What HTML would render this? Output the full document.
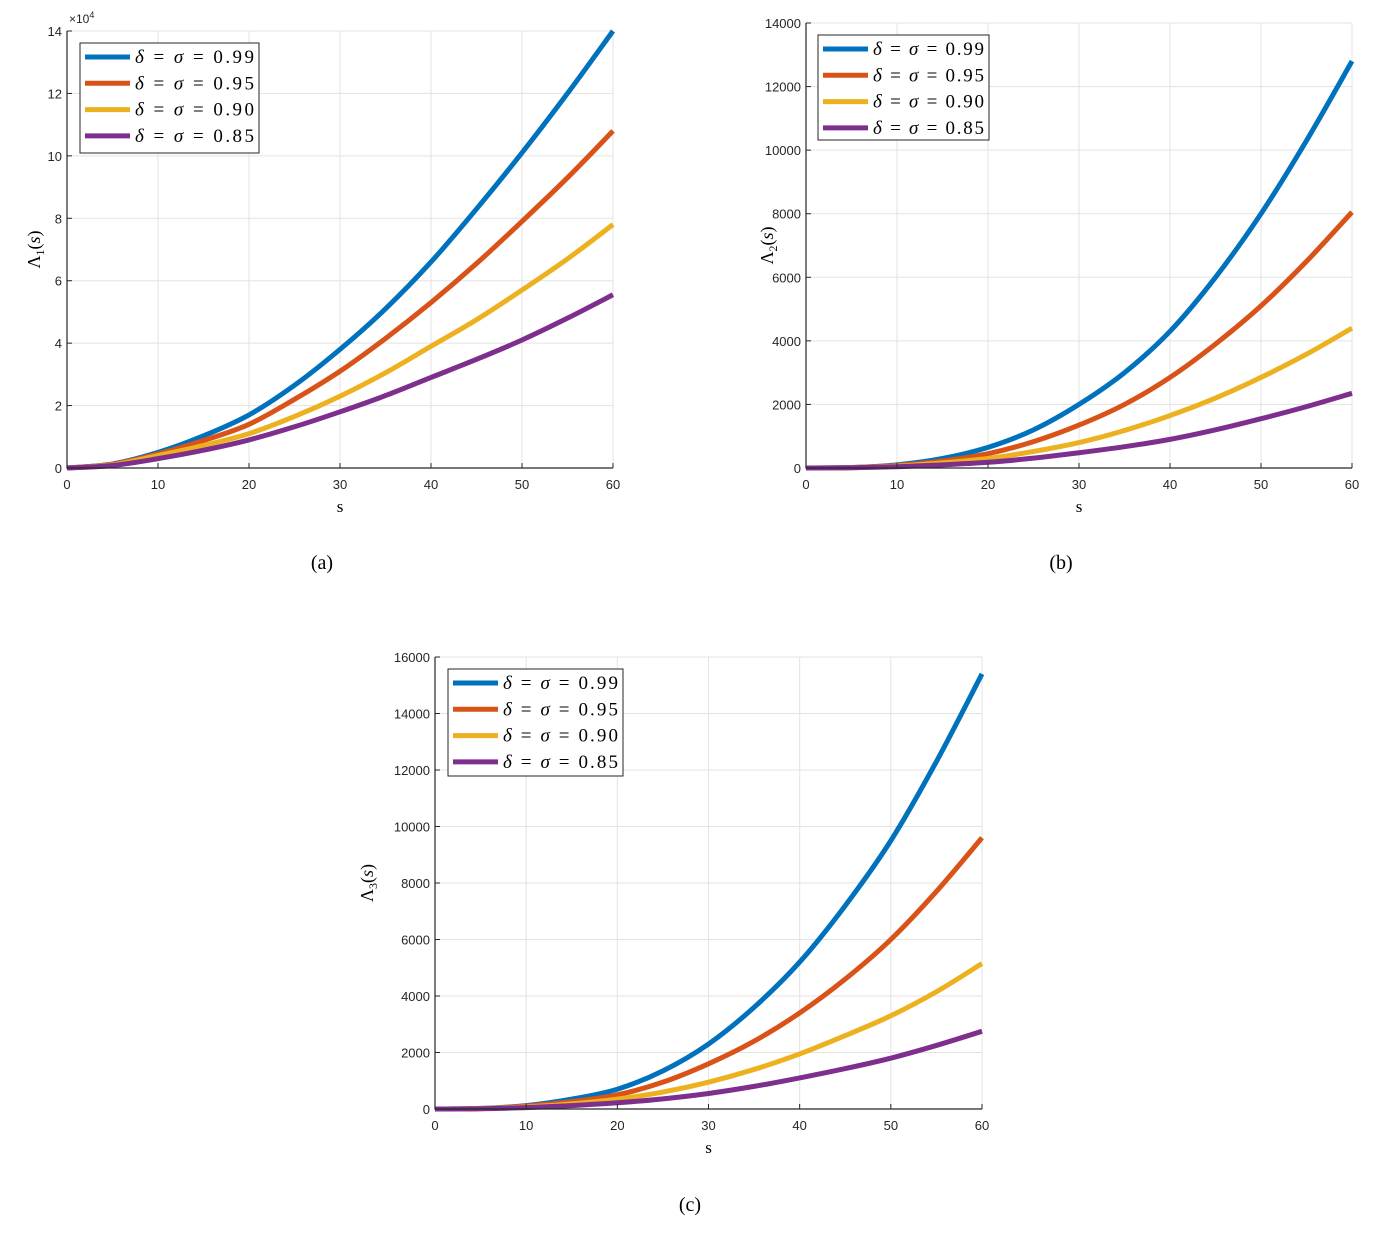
<!DOCTYPE html>
<html><head><meta charset="utf-8">
<style>
body{margin:0;background:#fff;}
svg text{font-family:"Liberation Sans",sans-serif;}
.serif{font-family:"Liberation Serif",serif;}
</style></head>
<body>
<svg id="fig" width="1373" height="1229" xmlns="http://www.w3.org/2000/svg"></svg>
<script>
const sVals=[0,5,10,15,20,25,30,35,40,45,50,55,60];
const labels=["0.99","0.95","0.90","0.85"];
const colors=["#0072bd","#d95319","#edb120","#7e2f8e"];
// panel a (units of 1e4)
const a99=[0,0.13,0.5,1.03,1.7,2.65,3.8,5.1,6.6,8.3,10.1,12.0,14.0];
const a95=[0,0.12,0.45,0.88,1.4,2.2,3.1,4.15,5.3,6.55,7.9,9.3,10.8];
const a90=[0,0.1,0.4,0.72,1.1,1.65,2.3,3.05,3.9,4.75,5.7,6.7,7.8];
const a85=[0,0.08,0.3,0.57,0.9,1.32,1.8,2.32,2.9,3.48,4.1,4.8,5.55];
// panel b
const b99=[0,15,100,300,650,1200,2000,3000,4300,6000,8000,10300,12800];
const b95=[0,12,80,220,450,830,1350,2000,2850,3900,5100,6500,8050];
const b90=[0,10,60,160,300,520,800,1180,1650,2200,2850,3580,4400];
const b85=[0,7,40,100,180,310,480,670,900,1200,1550,1930,2350];
// panel c
const c99=[0,20,120,350,700,1350,2300,3600,5200,7200,9500,12300,15400];
const c95=[0,15,100,260,500,950,1600,2400,3400,4600,6000,7700,9600];
const c90=[0,12,70,180,350,600,950,1400,1950,2600,3300,4150,5150];
const c85=[0,8,50,120,220,360,550,800,1100,1430,1800,2250,2750];
const xTicks=[0,10,20,30,40,50,60];
const aTicks=[0,2,4,6,8,10,12,14];
const bTicks=[0,2000,4000,6000,8000,10000,12000,14000];
const cTicks=[0,2000,4000,6000,8000,10000,12000,14000,16000];

const NS="http://www.w3.org/2000/svg";
const svg=document.getElementById('fig');
function el(t,attrs,parent,txt){const e=document.createElementNS(NS,t);for(const k in attrs)e.setAttribute(k,attrs[k]);if(txt!==undefined)e.textContent=txt;(parent||svg).appendChild(e);return e;}

function panel(p){
  const g=el('g',{});
  
  
  const X=v=>p.x0+(v-0)/60*(p.x1-p.x0);
  const Y=v=>p.y0-(v/p.ymax)*(p.y0-p.y1);
  xTicks.forEach(t=>{const l=el('line',{x1:X(t),x2:X(t),y1:p.y1,y2:p.y0,stroke:'#e3e3e3','stroke-width':1},g);
    });
  p.ticks.forEach(t=>{const l=el('line',{x1:p.x0,x2:p.x1,y1:Y(t),y2:Y(t),stroke:'#e3e3e3','stroke-width':1},g);
    });
  p.series.forEach((d,i)=>{
    const pts=sVals.map((s,j)=>[X(s),Y(d[j])]);
    let path='M'+pts[0][0]+','+pts[0][1];
    for(let j=0;j<pts.length-1;j++){
      const p0=pts[Math.max(j-1,0)],p1=pts[j],p2=pts[j+1],p3=pts[Math.min(j+2,pts.length-1)];
      const c1=[p1[0]+(p2[0]-p0[0])/6,p1[1]+(p2[1]-p0[1])/6];
      const c2=[p2[0]-(p3[0]-p1[0])/6,p2[1]-(p3[1]-p1[1])/6];
      path+=' C'+c1+' '+c2+' '+p2;
    }
    const l=el('path',{d:path,fill:'none',stroke:colors[i],'stroke-width':5},g);
    
    
  });
  const ax=el('path',{d:`M${p.x0},${p.y1} V${p.y0} H${p.x1}`,fill:'none',stroke:'#262626','stroke-width':1.2},g);
  
  xTicks.forEach(t=>{el('line',{x1:X(t),x2:X(t),y1:p.y0,y2:p.y0-5,stroke:'#262626'},g);
    const tx=el('text',{x:X(t),y:p.y0+21,'font-size':13,'text-anchor':'middle',fill:'#262626'},g,String(t));
    });
  p.ticks.forEach(t=>{el('line',{x1:p.x0,x2:p.x0+5,y1:Y(t),y2:Y(t),stroke:'#262626'},g);
    const tx=el('text',{x:p.x0-5,y:Y(t)+5,'font-size':13,'text-anchor':'end',fill:'#262626'},g,String(t));
    });
  if(p.exp){const tx=el('text',{x:p.x0+2,y:p.y1-8,'font-size':12,fill:'#262626'},g,'×10');
    el('tspan',{'font-size':9,dy:-5},tx,'4');
    }
  const xl=el('text',{x:(p.x0+p.x1)/2,y:p.y0+44,'font-size':17,'text-anchor':'middle',class:'serif'},g,'s');
  
  const yl=el('text',{x:0,y:0,'font-size':18,'text-anchor':'middle',class:'serif',transform:`translate(${p.ylx},${(p.y0+p.y1)/2}) rotate(-90)`},g,'Λ');
  el('tspan',{'font-size':12,dy:4},yl,p.sub);
  el('tspan',{dy:-4},yl,'(');
  el('tspan',{'font-style':'italic'},yl,'s');
  el('tspan',{},yl,')');
  
  const lg=el('g',{},g);
  
  el('rect',{x:p.lx,y:p.ly,width:p.lw,height:p.lh,fill:'#fff',stroke:'#262626','stroke-width':1},lg);
  labels.forEach((s,i)=>{const yy=p.ly+14+i*26.3;
    el('line',{x1:p.lx+5,x2:p.lx+50,y1:yy,y2:yy,stroke:colors[i],'stroke-width':5},lg);
    const t=el('text',{x:p.lx+55,y:yy+6,'font-size':19,class:'serif',textLength:p.lw-60,lengthAdjust:'spacing'},lg);
    el('tspan',{'font-style':'italic'},t,'δ');el('tspan',{},t,' = ');
    el('tspan',{'font-style':'italic'},t,'σ');el('tspan',{},t,' = '+s);
    });
  const cap=el('text',{x:p.capx,y:p.capy,'font-size':20,'text-anchor':'middle',class:'serif'},g,'('+p.id+')');
  
}
panel({id:'a',x0:67,x1:613,y0:468,y1:31,ymax:14,ticks:aTicks,exp:true,series:[a99,a95,a90,a85],sub:'1',ylx:40,lx:80,ly:43,lw:179,lh:110,capx:322,capy:569});
panel({id:'b',x0:806,x1:1352,y0:468,y1:23,ymax:14000,ticks:bTicks,series:[b99,b95,b90,b85],sub:'2',ylx:773,lx:818,ly:35,lw:171,lh:105,capx:1061,capy:569});
panel({id:'c',x0:435,x1:982,y0:1109,y1:657,ymax:16000,ticks:cTicks,series:[c99,c95,c90,c85],sub:'3',ylx:373,lx:448,ly:669,lw:175,lh:107,capx:690,capy:1211});
</script>
</body></html>
